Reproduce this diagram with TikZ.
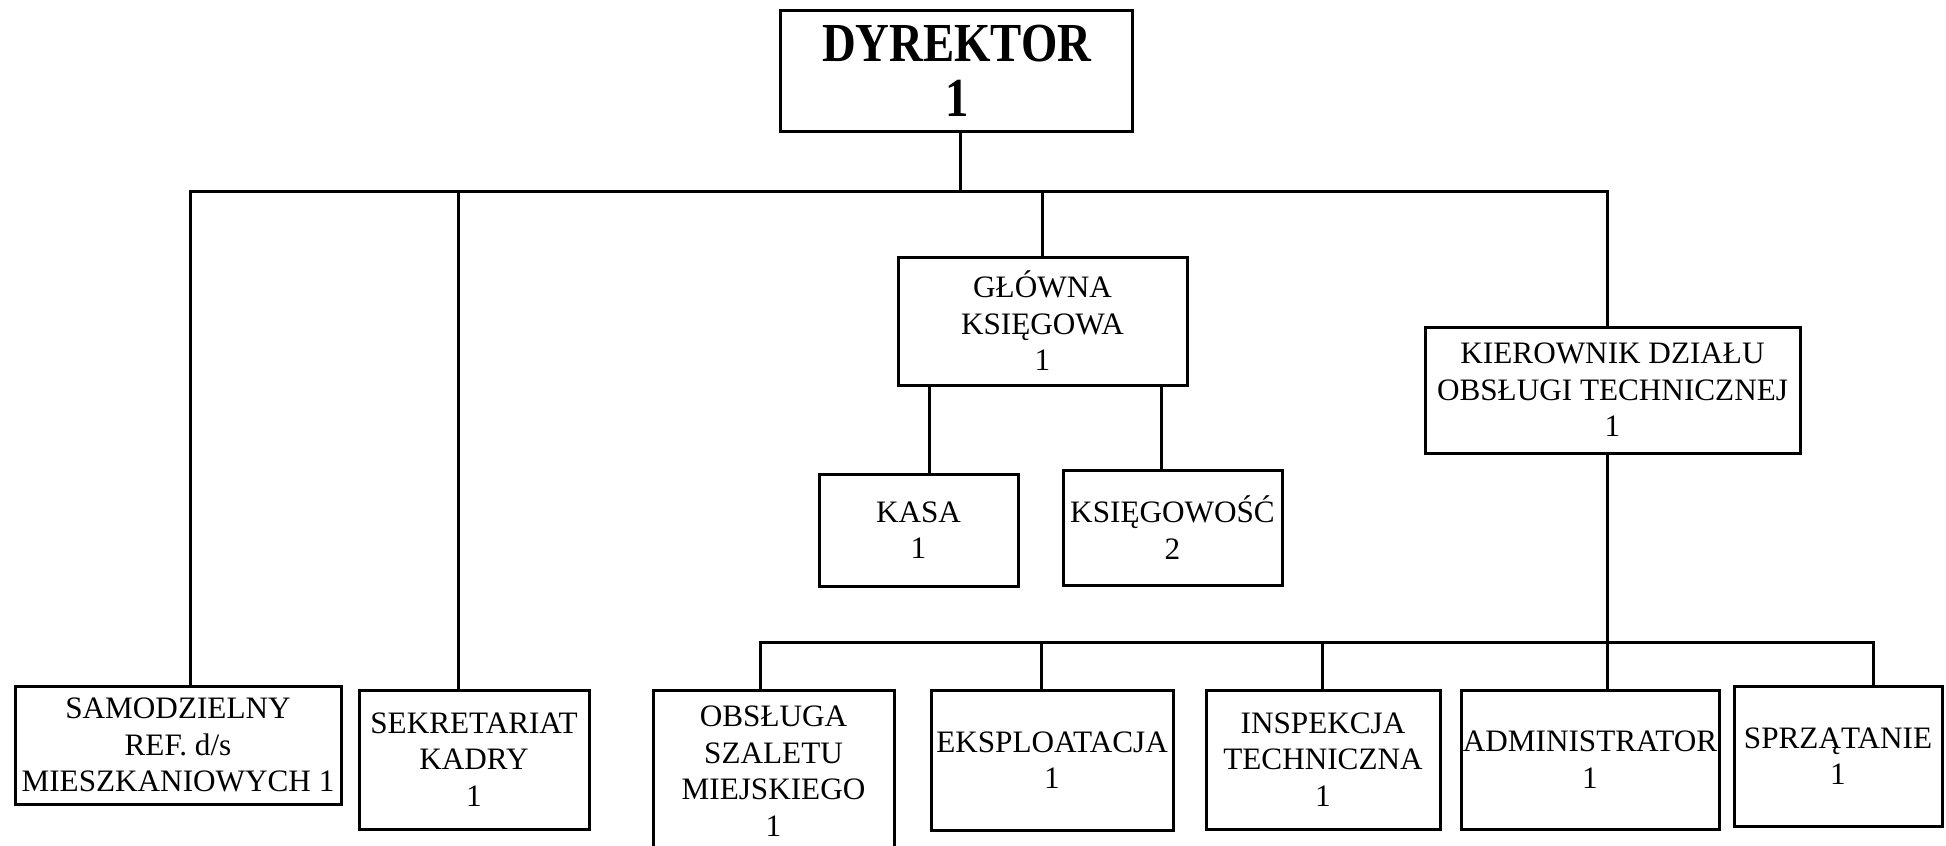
\documentclass[tikz,border=0pt]{standalone}
\usepackage{fontspec}
\setmainfont{Liberation Serif}
\newfontfamily\dyrfont[FakeStretch=0.85]{Liberation Serif}
\begin{document}
\begin{tikzpicture}[x=0.5pt,y=-0.5pt,
  box/.style={draw,line width=1.5pt,inner sep=0pt,align=center,
    font=\fontsize{15.6}{18.3}\selectfont},
  conn/.style={line width=1.5pt}]
\useasboundingbox (0,0) rectangle (1946,845);
\clip (0,0) rectangle (1946,845);
% boxes
\node[box,minimum width=176pt,minimum height=60.5pt,
  font=\dyrfont\bfseries\fontsize{27.5}{27.5}\selectfont] (dyr) at (956.7,71) {DYREKTOR\\1};
\node[box,minimum width=163pt,minimum height=59pt] (sam) at (178,745) {SAMODZIELNY\\REF. d/s\\MIESZKANIOWYCH 1};
\node[box,minimum width=115pt,minimum height=69.5pt] (sek) at (474,759.5) {SEKRETARIAT\\KADRY\\1};
\node[box,minimum width=144.5pt,minimum height=64pt] (glow) at (1042.5,321) {GŁÓWNA\\KSIĘGOWA\\1};
\node[box,minimum width=99.5pt,minimum height=56pt] (kasa) at (918.5,530) {KASA\\1};
\node[box,minimum width=109.5pt,minimum height=57.5pt] (ksieg) at (1172.5,527.5) {KSIĘGOWOŚĆ\\2};
\node[box,minimum width=187.5pt,minimum height=63pt] (kier) at (1612.5,390) {KIEROWNIK DZIAŁU\\OBSŁUGI TECHNICZNEJ\\1};
\node[box,minimum width=120.5pt,minimum height=81pt] (obs) at (773.5,771) {OBSŁUGA\\SZALETU\\MIEJSKIEGO\\1};
\node[box,minimum width=121pt,minimum height=70pt] (eks) at (1052,760) {EKSPLOATACJA\\1};
\node[box,minimum width=117pt,minimum height=69.5pt] (ins) at (1323,759.5) {INSPEKCJA\\TECHNICZNA\\1};
\node[box,minimum width=129pt,minimum height=69.5pt] (adm) at (1590,759.5) {ADMINISTRATOR\\1};
\node[box,minimum width=104pt,minimum height=70pt] (spr) at (1838,756) {SPRZĄTANIE\\1};
% junction coordinates
\coordinate (jL) at (190,192);
\coordinate (jR) at (1607,192);
\coordinate (jS) at (458,192);
\coordinate (jD) at (960,192);
\coordinate (gK) at (929,0);
\coordinate (gE) at (1161,0);
\coordinate (lL) at (760,642);
\coordinate (lR) at (1873,642);
\coordinate (lB) at (1607,642);
\coordinate (lE) at (1041,642);
\coordinate (lI) at (1322,642);
% top level connectors
\draw[conn] (jD |- dyr.south) -- (jD);
\draw[conn] (jL |- sam.north) -- (jL) -- (jR) -- (jR |- kier.north);
\draw[conn] (jS) -- (jS |- sek.north);
\draw[conn] (glow.north) -- (glow.north |- jL);
% accounting
\draw[conn] (gK |- glow.south) -- (gK |- kasa.north);
\draw[conn] (gE |- glow.south) -- (gE |- ksieg.north);
% technical department
\draw[conn] (lB |- kier.south) -- (lB |- adm.north);
\draw[conn] (lL |- obs.north) -- (lL) -- (lR) -- (lR |- spr.north);
\draw[conn] (lE) -- (lE |- eks.north);
\draw[conn] (lI) -- (lI |- ins.north);
\end{tikzpicture}
\end{document}
